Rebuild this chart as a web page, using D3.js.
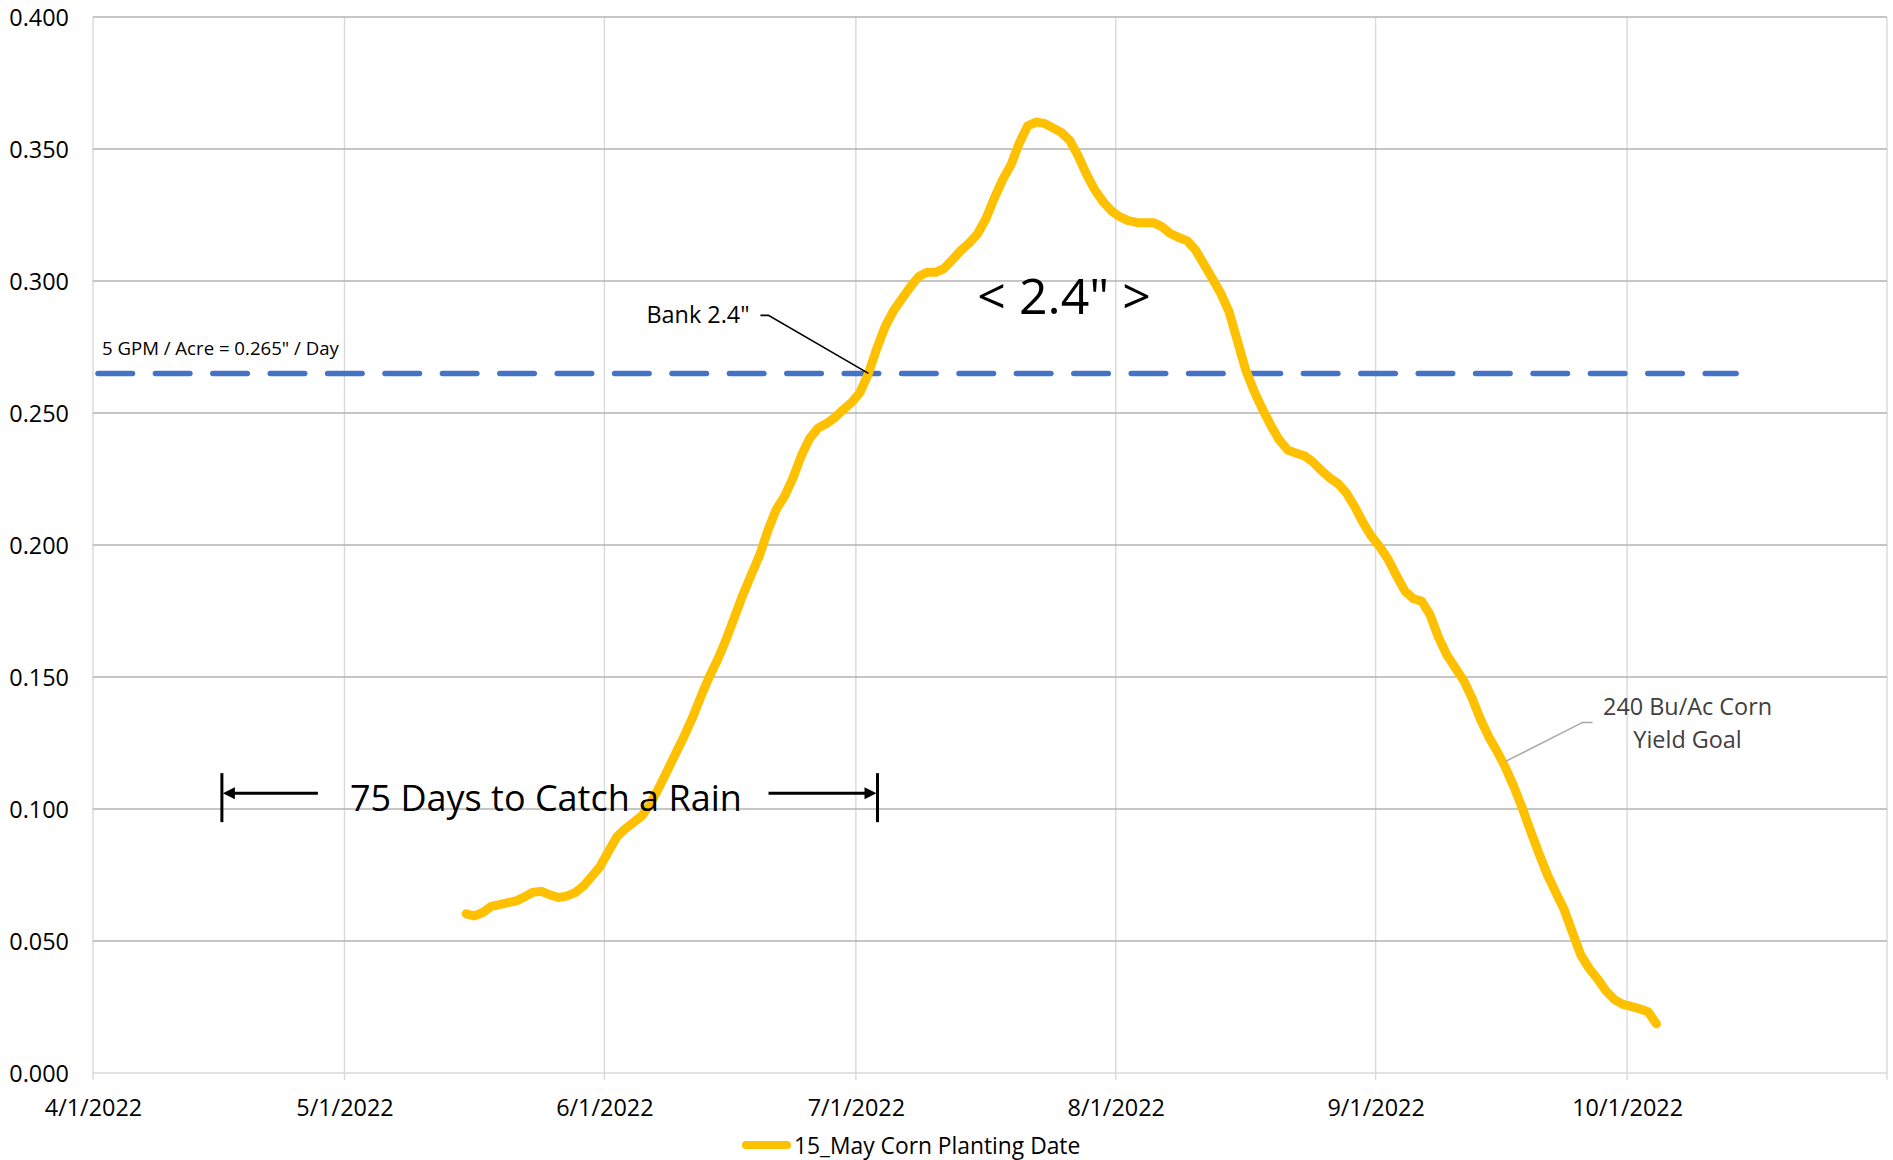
<!DOCTYPE html>
<html>
<head>
<meta charset="utf-8">
<script src="https://cdn.jsdelivr.net/npm/d3@7"></script>
<style>
  body { margin: 0; background: #fff; }
  text { font-family: "Open Sans", sans-serif; }
</style>
</head>
<body>
<div class="chart"></div>
<script>
// daily water use (in / day), 15 May planting
var startDate = "2022-05-15";
var waterUse = [
  0.0603, 0.0595, 0.0608, 0.0631, 0.0638, 0.0645, 0.0652, 0.0668, 0.0685, 0.0688,
  0.0675, 0.0665, 0.0670, 0.0683, 0.0708, 0.0745, 0.0783, 0.0840, 0.0895, 0.0925,
  0.0950, 0.0975, 0.1020, 0.1080, 0.1145, 0.1210, 0.1275, 0.1345, 0.1425, 0.1500,
  0.1565, 0.1640, 0.1725, 0.1810, 0.1885, 0.1960, 0.2055, 0.2135, 0.2185, 0.2254,
  0.2339, 0.2405, 0.2443, 0.2460, 0.2483, 0.2513, 0.2540, 0.2578, 0.2650, 0.2745,
  0.2828, 0.2888, 0.2933, 0.2978, 0.3017, 0.3033, 0.3033, 0.3047, 0.3080, 0.3115,
  0.3143, 0.3178, 0.3235, 0.3313, 0.3383, 0.3440, 0.3523, 0.3588, 0.3602, 0.3597,
  0.3580, 0.3563, 0.3533, 0.3475, 0.3405, 0.3345, 0.3300, 0.3265, 0.3243, 0.3229,
  0.3222, 0.3221, 0.3221, 0.3206, 0.3180, 0.3165, 0.3153, 0.3118, 0.3065, 0.3010,
  0.2955, 0.2885, 0.2775, 0.2663, 0.2583, 0.2515, 0.2453, 0.2398, 0.2360, 0.2348,
  0.2338, 0.2315, 0.2283, 0.2255, 0.2233, 0.2198, 0.2145, 0.2085, 0.2033, 0.1993,
  0.1945, 0.1883, 0.1825, 0.1797, 0.1787, 0.1735, 0.1650, 0.1583, 0.1535, 0.1487,
  0.1420, 0.1340, 0.1273, 0.1218, 0.1156, 0.1084, 0.1003, 0.0915, 0.0830, 0.0750,
  0.0683, 0.0618, 0.0530, 0.0445, 0.0395, 0.0355, 0.0310, 0.0278, 0.0260, 0.0252,
  0.0243, 0.0232, 0.0186
];
var seriesName = "15_May Corn Planting Date";

// axis setup
var xDomain = ["2022-04-01", "2022-11-01"];
var yTicks = [0, 0.05, 0.1, 0.15, 0.2, 0.25, 0.3, 0.35, 0.4];

// threshold line
var gpmValue = 0.265;
var gpmRange = ["2022-04-01", "2022-10-14"];
var gpmLabel = "5 GPM / Acre = 0.265\" / Day";

var parseDate = d3.timeParse("%Y-%m-%d");
var fmtDate = d3.timeFormat("%-m/%-d/%Y");

var svgWidth = 1893,
    svgHeight = 1160,
    margin = {top: 17, right: 6, bottom: 87, left: 93},
    width = svgWidth - margin.left - margin.right,
    height = svgHeight - margin.top - margin.bottom;

var svg = d3.select(".chart")
    .append("svg")
    .attr("width", svgWidth)
    .attr("height", svgHeight);

var g = svg.append("g")
    .attr("transform", "translate(" + margin.left + "," + margin.top + ")");

var x = d3.scaleTime()
    .domain(xDomain.map(parseDate))
    .range([0, width]);

var y = d3.scaleLinear()
    .domain([0, 0.4])
    .range([height, 0]);

// points sit in the middle of each day, like excel's date axis
var t0 = parseDate(startDate);
var data = waterUse.map(function(v, i) {
    return {date: d3.timeHour.offset(d3.timeDay.offset(t0, i), 12), value: v};
});

var months = d3.timeMonth.range(x.domain()[0], d3.timeDay.offset(x.domain()[1], 1));

// vertical gridlines
g.append("g").selectAll("line")
    .data(months)
    .enter().append("line")
    .attr("x1", function(d) { return x(d); })
    .attr("x2", function(d) { return x(d); })
    .attr("y1", 0)
    .attr("y2", height + 7)
    .attr("stroke", "#d9d9d9")
    .attr("stroke-width", 1.4);

// horizontal gridlines
g.append("g").selectAll("line")
    .data(yTicks)
    .enter().append("line")
    .attr("x1", 0)
    .attr("x2", width)
    .attr("y1", function(d) { return y(d); })
    .attr("y2", function(d) { return y(d); })
    .attr("stroke", function(d) { return d === 0 ? "#d9d9d9" : "#b3b3b3"; })
    .attr("stroke-width", 1.4);

// y axis labels
var yAxis = d3.axisLeft(y).tickValues(yTicks).tickFormat(d3.format(".3f")).tickSize(0).tickPadding(24);
g.append("g")
    .attr("class", "axis axis--y")
    .call(yAxis)
    .call(function(s) { s.select(".domain").remove(); })
    .selectAll("text")
    .attr("font-family", "Open Sans, sans-serif")
    .attr("font-size", 23.4)
    .attr("fill", "#000")
    .attr("dy", "0.36em");

// x axis labels (last month has no label)
var xAxis = d3.axisBottom(x)
    .tickValues(months.slice(0, months.length - 1))
    .tickFormat(fmtDate)
    .tickSize(0)
    .tickPadding(26);
g.append("g")
    .attr("class", "axis axis--x")
    .attr("transform", "translate(0," + height + ")")
    .call(xAxis)
    .call(function(s) { s.select(".domain").remove(); })
    .selectAll("text")
    .attr("font-family", "Open Sans, sans-serif")
    .attr("font-size", 23.4)
    .attr("fill", "#000");

// 5 GPM threshold
g.append("line")
    .attr("x1", x(parseDate(gpmRange[0])) + 5)
    .attr("x2", x(parseDate(gpmRange[1])))
    .attr("y1", y(gpmValue))
    .attr("y2", y(gpmValue))
    .attr("stroke", "#4472c4")
    .attr("stroke-width", 5.5)
    .attr("stroke-linecap", "round")
    .attr("stroke-dasharray", "34.5 22.9");

g.append("text")
    .attr("x", x(parseDate(gpmRange[0])) + 9)
    .attr("y", y(gpmValue) - 18)
    .attr("font-size", 18.6)
    .text(gpmLabel);

// water use line
var line = d3.line()
    .x(function(d) { return x(d.date); })
    .y(function(d) { return y(d.value); });

g.append("path")
    .datum(data)
    .attr("fill", "none")
    .attr("stroke", "#ffc000")
    .attr("stroke-width", 9)
    .attr("stroke-linejoin", "round")
    .attr("stroke-linecap", "round")
    .attr("d", line);

// "Bank 2.4"" callout
var bankTarget = [new Date(2022, 6, 2, 12), gpmValue];
var bx = x(bankTarget[0]), by = y(bankTarget[1]);
g.append("text")
    .attr("x", bx - 222)
    .attr("y", by - 50)
    .attr("font-size", 23.4)
    .text("Bank 2.4\"");
g.append("polyline")
    .attr("points", [[bx - 108, by - 58], [bx - 100, by - 58], [bx, by]].join(" "))
    .attr("fill", "none")
    .attr("stroke", "#000")
    .attr("stroke-width", 1.6);

// "< 2.4" >" label
g.append("text")
    .attr("x", x(new Date(2022, 6, 25, 20)))
    .attr("y", y(0.3) + 33)
    .attr("text-anchor", "middle")
    .attr("font-size", 50)
    .text("< 2.4\" >");

// 75 days annotation
var arrowY = y(0.106);
var leftBar = x(new Date(2022, 3, 16, 9)),
    rightBar = x(new Date(2022, 6, 3, 14));
var ann = g.append("g").attr("stroke", "#000").attr("stroke-width", 3);
[leftBar, rightBar].forEach(function(bxx) {
    ann.append("line")
        .attr("x1", bxx).attr("x2", bxx)
        .attr("y1", arrowY - 20).attr("y2", arrowY + 29);
});
ann.append("line")
    .attr("x1", leftBar + 96).attr("x2", leftBar + 10)
    .attr("y1", arrowY).attr("y2", arrowY);
ann.append("line")
    .attr("x1", rightBar - 109).attr("x2", rightBar - 12)
    .attr("y1", arrowY).attr("y2", arrowY);
g.append("path")
    .attr("d", "M" + (leftBar + 1) + "," + arrowY + "l12,-6l0,12z")
    .attr("fill", "#000");
g.append("path")
    .attr("d", "M" + (rightBar - 1) + "," + arrowY + "l-12,-6l0,12z")
    .attr("fill", "#000");
g.append("text")
    .attr("x", leftBar + 128)
    .attr("y", arrowY + 18)
    .attr("font-size", 36)
    .text("75 Days to Catch a Rain");

// yield goal callout
var ygTarget = [new Date(2022, 8, 16, 12), 0.118];
var yx = x(ygTarget[0]), yy = y(ygTarget[1]);
g.append("polyline")
    .attr("points", [[yx, yy], [yx + 77, yy - 39], [yx + 87, yy - 39]].join(" "))
    .attr("fill", "none")
    .attr("stroke", "#a6a6a6")
    .attr("stroke-width", 1.4);
var yg = g.append("text")
    .attr("text-anchor", "middle")
    .attr("font-size", 23.4)
    .attr("fill", "#404040");
yg.append("tspan").attr("x", yx + 182).attr("y", yy - 46).text("240 Bu/Ac Corn");
yg.append("tspan").attr("x", yx + 182).attr("y", yy - 13).text("Yield Goal");

// legend
var legend = svg.append("g").attr("transform", "translate(742,1145)");
legend.append("line")
    .attr("x1", 4).attr("x2", 45)
    .attr("stroke", "#ffc000")
    .attr("stroke-width", 8)
    .attr("stroke-linecap", "round");
legend.append("text")
    .attr("x", 52)
    .attr("y", 8.5)
    .attr("font-size", 22.8)
    .text(seriesName);
</script>
</body>
</html>
